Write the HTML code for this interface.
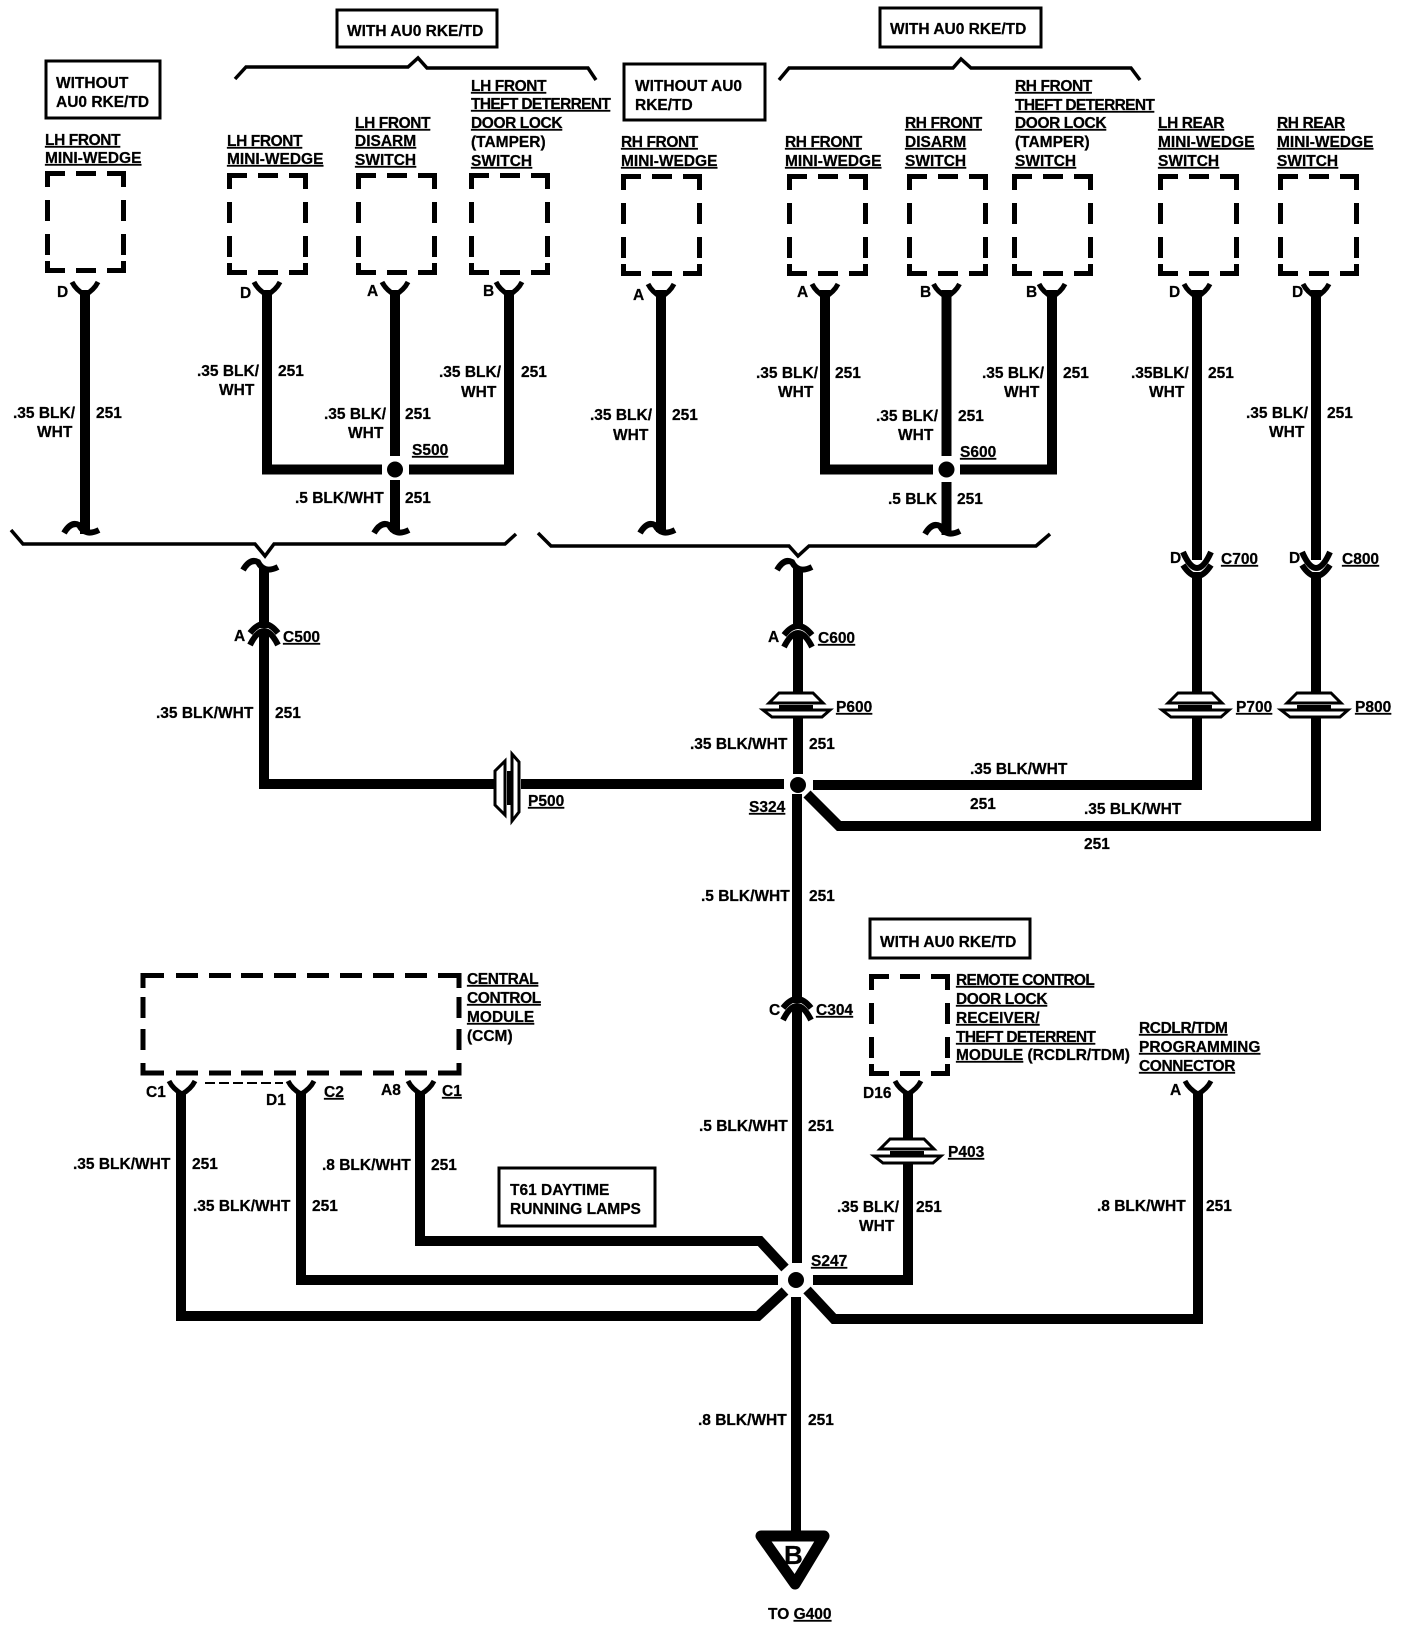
<!DOCTYPE html>
<html><head><meta charset="utf-8"><style>
html,body{margin:0;padding:0;background:#fff}
svg{display:block}
text{font-family:"Liberation Sans",sans-serif;font-weight:700;font-size:15.5px;fill:#000;stroke:#000;stroke-width:.25px}
.u{text-decoration:underline}
.n{letter-spacing:-.4px}
.m{letter-spacing:-.65px}
.w{fill:none;stroke:#000;stroke-width:10}
.t{fill:none;stroke:#000;stroke-width:5}
.k{fill:none;stroke:#000;stroke-width:6}
.b{fill:#fff;stroke:#000;stroke-width:3}
</style></head><body>
<svg width="1408" height="1630" viewBox="0 0 1408 1630" xmlns="http://www.w3.org/2000/svg">
<defs>
<path id="db" class="t" d="M2.5,16V2.5H20M31,2.5H51M62,2.5H78.5V16M2.5,29V50M2.5,63V84M2.5,90V99.5H20M31,99.5H51M62,99.5H78.5V90M78.5,29V50M78.5,63V84"/>
<path id="f" class="t" d="M-13,-11Q-9,-3 0,2Q9,-3 13,-11"/>
<path id="h" class="k" d="M-21,3Q-14,-9 -6,-5Q0,7 14,0"/>
<g id="a"><path class="k" d="M-14,9Q0,-9 14,9M-14,21Q0,-7 14,21"/></g>
<g id="c"><path class="k" d="M-14,-11Q0,21 14,-11M-14,2Q0,24 14,2"/></g>
<g id="p"><path class="b" d="M-28,-2L-18,-12H16L26,-2Z"/><path class="b" d="M-34,5H33L25,12H-25Z"/><rect x="-18" y="0" width="34" height="4" fill="#000"/></g>
</defs>

<!-- option boxes -->
<g fill="#fff" stroke="#000" stroke-width="3">
<rect x="337" y="10" width="160" height="37"/>
<rect x="46" y="61" width="114" height="57"/>
<rect x="624" y="64" width="141" height="56"/>
<rect x="880" y="8" width="161" height="39"/>
<rect x="870" y="919" width="160" height="39"/>
<rect x="499" y="1168" width="156" height="58"/>
</g>
<text x="347" y="36">WITH AU0 RKE/TD</text>
<text x="56" y="88">WITHOUT</text><text x="56" y="107">AU0 RKE/TD</text>
<text x="635" y="91">WITHOUT AU0</text><text x="635" y="110">RKE/TD</text>
<text x="890" y="34">WITH AU0 RKE/TD</text>
<text x="880" y="947">WITH AU0 RKE/TD</text>
<text x="510" y="1195">T61 DAYTIME</text><text x="510" y="1214">RUNNING LAMPS</text>

<!-- braces -->
<g fill="none" stroke="#000" stroke-width="3.5">
<path d="M235,79L246,67H408L418,58L427,68H588L596,80"/>
<path d="M779,80L789,68H953L961,59L971,68H1131L1140,80"/>
<path d="M11,530L23,544H255L265,556L274,544H505L516,534"/>
<path d="M538,533L551,546H789L798,556L809,546H1036L1050,534"/>
</g>

<!-- dashed boxes -->
<use href="#db" x="45" y="171"/><use href="#db" x="227" y="173"/><use href="#db" x="356" y="173"/><use href="#db" x="469" y="173"/><use href="#db" x="621" y="174"/>
<use href="#db" x="787" y="174"/><use href="#db" x="907" y="174"/><use href="#db" x="1012" y="174"/><use href="#db" x="1158" y="174"/><use href="#db" x="1278" y="174"/>
<use href="#db" x="869" y="974"/>
<path class="t" d="M143,988V975.5H164M176,975.5H198M209,975.5H231M241,975.5H263M274,975.5H296M307,975.5H329M340,975.5H362M373,975.5H394M405,975.5H427M438,975.5H459V988M143,997V1018M143,1029V1050M143,1063V1073H164M176,1073H198M209,1073H231M241,1073H263M274,1073H296M307,1073H329M340,1073H362M373,1073H394M405,1073H427M438,1073H459V1063M459,997V1018M459,1029V1050"/>
<path d="M205,1083H283" fill="none" stroke="#000" stroke-width="2" stroke-dasharray="10 4"/>

<!-- wires -->
<path class="w" d="M85,290V534"/>
<path class="w" d="M267,290V469.5H382M409,469.5H509V290"/>
<path class="w" d="M395,290V456M395,480V532"/>
<path class="w" d="M661,290V532"/>
<path class="w" d="M825,290V469.5H933M960,469.5H1052V290"/>
<path class="w" d="M946.5,290V456M946.5,482V535"/>
<path class="w" d="M1197,290V560M1197,572V693M1197,717V785H813"/>
<path class="w" d="M1316,290V560M1316,572V693M1316,717V826H839L807,794"/>
<path class="w" d="M264,567V628M264,634V784H494M521,784H784"/>
<path class="w" d="M798,567V628M798,634V693M798,717V774M797,794V1003M797,1009V1263M796,1297V1532"/>
<path class="w" d="M181,1093V1316H758L785,1291"/>
<path class="w" d="M301,1093V1280H778"/>
<path class="w" d="M420,1093V1241H760L785,1268"/>
<path class="w" d="M908,1093V1140M908,1163V1280H813"/>
<path class="w" d="M1198,1093V1319H834L807,1290"/>

<!-- forks -->
<use href="#f" x="85" y="293"/><use href="#f" x="267" y="293"/><use href="#f" x="395" y="293"/><use href="#f" x="509" y="293"/><use href="#f" x="661" y="295"/>
<use href="#f" x="825" y="295"/><use href="#f" x="946.5" y="295"/><use href="#f" x="1052" y="295"/><use href="#f" x="1197" y="295"/><use href="#f" x="1316" y="295"/>
<use href="#f" x="182" y="1092"/><use href="#f" x="301" y="1092"/><use href="#f" x="421" y="1092"/><use href="#f" x="908" y="1092"/><use href="#f" x="1198" y="1092"/>

<!-- hooks -->
<use href="#h" x="85" y="530"/><use href="#h" x="395" y="530"/><use href="#h" x="661" y="530"/><use href="#h" x="946" y="531"/>
<use href="#h" x="264" y="567"/><use href="#h" x="798" y="567"/>

<!-- inline connectors -->
<use href="#a" x="264" y="624"/><use href="#a" x="798" y="626"/><use href="#a" x="797" y="999"/>
<use href="#c" x="1197" y="563"/><use href="#c" x="1316" y="563"/>

<!-- pass-throughs -->
<use href="#p" x="797" y="705"/><use href="#p" x="1196" y="705"/><use href="#p" x="1315" y="705"/><use href="#p" x="908" y="1151"/>
<use href="#p" transform="translate(507 787) rotate(-90)"/>

<!-- splices -->
<g fill="#000"><circle cx="395" cy="469.5" r="8"/><circle cx="946.5" cy="469.5" r="8"/><circle cx="798" cy="785" r="8"/><circle cx="796" cy="1280" r="8"/></g>

<!-- ground -->
<path d="M761,1536H824L795,1584Z" fill="#fff" stroke="#000" stroke-width="11" stroke-linejoin="round"/>
<text x="784" y="1564" style="font-size:26px">B</text>
<text x="768" y="1619">TO <tspan class="u">G400</tspan></text>

<!-- component labels -->
<text class="u n" x="45" y="145">LH FRONT</text><text class="u" x="45" y="163">MINI-WEDGE</text>
<text class="u n" x="227" y="146">LH FRONT</text><text class="u" x="227" y="164">MINI-WEDGE</text>
<text class="u n" x="355" y="128">LH FRONT</text><text class="u" x="355" y="146">DISARM</text><text class="u" x="355" y="165">SWITCH</text>
<text class="u n" x="471" y="91">LH FRONT</text><text class="u m" x="471" y="109">THEFT DETERRENT</text><text class="u n" x="471" y="128">DOOR LOCK</text><text x="471" y="147">(TAMPER)</text><text class="u" x="471" y="166">SWITCH</text>
<text class="u n" x="621" y="147">RH FRONT</text><text class="u" x="621" y="166">MINI-WEDGE</text>
<text class="u n" x="785" y="147">RH FRONT</text><text class="u" x="785" y="166">MINI-WEDGE</text>
<text class="u n" x="905" y="128">RH FRONT</text><text class="u" x="905" y="147">DISARM</text><text class="u" x="905" y="166">SWITCH</text>
<text class="u n" x="1015" y="91">RH FRONT</text><text class="u m" x="1015" y="110">THEFT DETERRENT</text><text class="u n" x="1015" y="128">DOOR LOCK</text><text x="1015" y="147">(TAMPER)</text><text class="u" x="1015" y="166">SWITCH</text>
<text class="u n" x="1158" y="128">LH REAR</text><text class="u" x="1158" y="147">MINI-WEDGE</text><text class="u" x="1158" y="166">SWITCH</text>
<text class="u n" x="1277" y="128">RH REAR</text><text class="u" x="1277" y="147">MINI-WEDGE</text><text class="u" x="1277" y="166">SWITCH</text>
<text class="u n" x="467" y="984">CENTRAL</text><text class="u n" x="467" y="1003">CONTROL</text><text class="u" x="467" y="1022">MODULE</text><text x="467" y="1041">(CCM)</text>
<text class="u m" x="956" y="985">REMOTE CONTROL</text><text class="u n" x="956" y="1004">DOOR LOCK</text><text class="u" x="956" y="1023">RECEIVER/</text><text class="u m" x="956" y="1042">THEFT DETERRENT</text><text x="956" y="1060"><tspan class="u">MODULE</tspan> (RCDLR/TDM)</text>
<text class="u n" x="1139" y="1033">RCDLR/TDM</text><text class="u" x="1139" y="1052">PROGRAMMING</text><text class="u n" x="1139" y="1071">CONNECTOR</text>

<!-- pin letters -->
<text x="57" y="297">D</text><text x="240" y="298">D</text><text x="367" y="296">A</text><text x="483" y="296">B</text><text x="633" y="300">A</text>
<text x="797" y="297">A</text><text x="920" y="297">B</text><text x="1026" y="297">B</text><text x="1169" y="297">D</text><text x="1292" y="297">D</text>
<text x="234" y="641">A</text><text x="768" y="642">A</text><text x="1170" y="563">D</text><text x="1289" y="563">D</text><text x="769" y="1015">C</text>
<text x="146" y="1097">C1</text><text x="266" y="1105">D1</text><text class="u" x="324" y="1097">C2</text><text x="381" y="1095">A8</text><text class="u" x="442" y="1096">C1</text>
<text x="863" y="1098">D16</text><text x="1170" y="1095">A</text>

<!-- connector ids -->
<text class="u" x="412" y="455">S500</text><text class="u" x="960" y="457">S600</text>
<text class="u" x="283" y="642">C500</text><text class="u" x="818" y="643">C600</text><text class="u" x="1221" y="564">C700</text><text class="u" x="1342" y="564">C800</text><text class="u" x="816" y="1015">C304</text>
<text class="u" x="528" y="806">P500</text><text class="u" x="836" y="712">P600</text><text class="u" x="1236" y="712">P700</text><text class="u" x="1355" y="712">P800</text><text class="u" x="948" y="1157">P403</text>
<text class="u" x="749" y="812">S324</text><text class="u" x="811" y="1266">S247</text>

<!-- wire labels -->
<text x="13" y="418">.35 BLK/</text><text x="37" y="437">WHT</text><text x="96" y="418">251</text>
<text x="197" y="376">.35 BLK/</text><text x="219" y="395">WHT</text><text x="278" y="376">251</text>
<text x="324" y="419">.35 BLK/</text><text x="348" y="438">WHT</text><text x="405" y="419">251</text>
<text x="439" y="377">.35 BLK/</text><text x="461" y="397">WHT</text><text x="521" y="377">251</text>
<text x="295" y="503">.5 BLK/WHT</text><text x="405" y="503">251</text>
<text x="590" y="420">.35 BLK/</text><text x="613" y="440">WHT</text><text x="672" y="420">251</text>
<text x="756" y="378">.35 BLK/</text><text x="778" y="397">WHT</text><text x="835" y="378">251</text>
<text x="876" y="421">.35 BLK/</text><text x="898" y="440">WHT</text><text x="958" y="421">251</text>
<text x="982" y="378">.35 BLK/</text><text x="1004" y="397">WHT</text><text x="1063" y="378">251</text>
<text x="1131" y="378">.35BLK/</text><text x="1149" y="397">WHT</text><text x="1208" y="378">251</text>
<text x="1246" y="418">.35 BLK/</text><text x="1269" y="437">WHT</text><text x="1327" y="418">251</text>
<text x="888" y="504">.5 BLK</text><text x="957" y="504">251</text>
<text x="156" y="718">.35 BLK/WHT</text><text x="275" y="718">251</text>
<text x="690" y="749">.35 BLK/WHT</text><text x="809" y="749">251</text>
<text x="970" y="774">.35 BLK/WHT</text><text x="970" y="809">251</text>
<text x="1084" y="814">.35 BLK/WHT</text><text x="1084" y="849">251</text>
<text x="701" y="901">.5 BLK/WHT</text><text x="809" y="901">251</text>
<text x="699" y="1131">.5 BLK/WHT</text><text x="808" y="1131">251</text>
<text x="73" y="1169">.35 BLK/WHT</text><text x="192" y="1169">251</text>
<text x="193" y="1211">.35 BLK/WHT</text><text x="312" y="1211">251</text>
<text x="322" y="1170">.8 BLK/WHT</text><text x="431" y="1170">251</text>
<text x="837" y="1212">.35 BLK/</text><text x="859" y="1231">WHT</text><text x="916" y="1212">251</text>
<text x="1097" y="1211">.8 BLK/WHT</text><text x="1206" y="1211">251</text>
<text x="698" y="1425">.8 BLK/WHT</text><text x="808" y="1425">251</text>
</svg>
</body></html>
